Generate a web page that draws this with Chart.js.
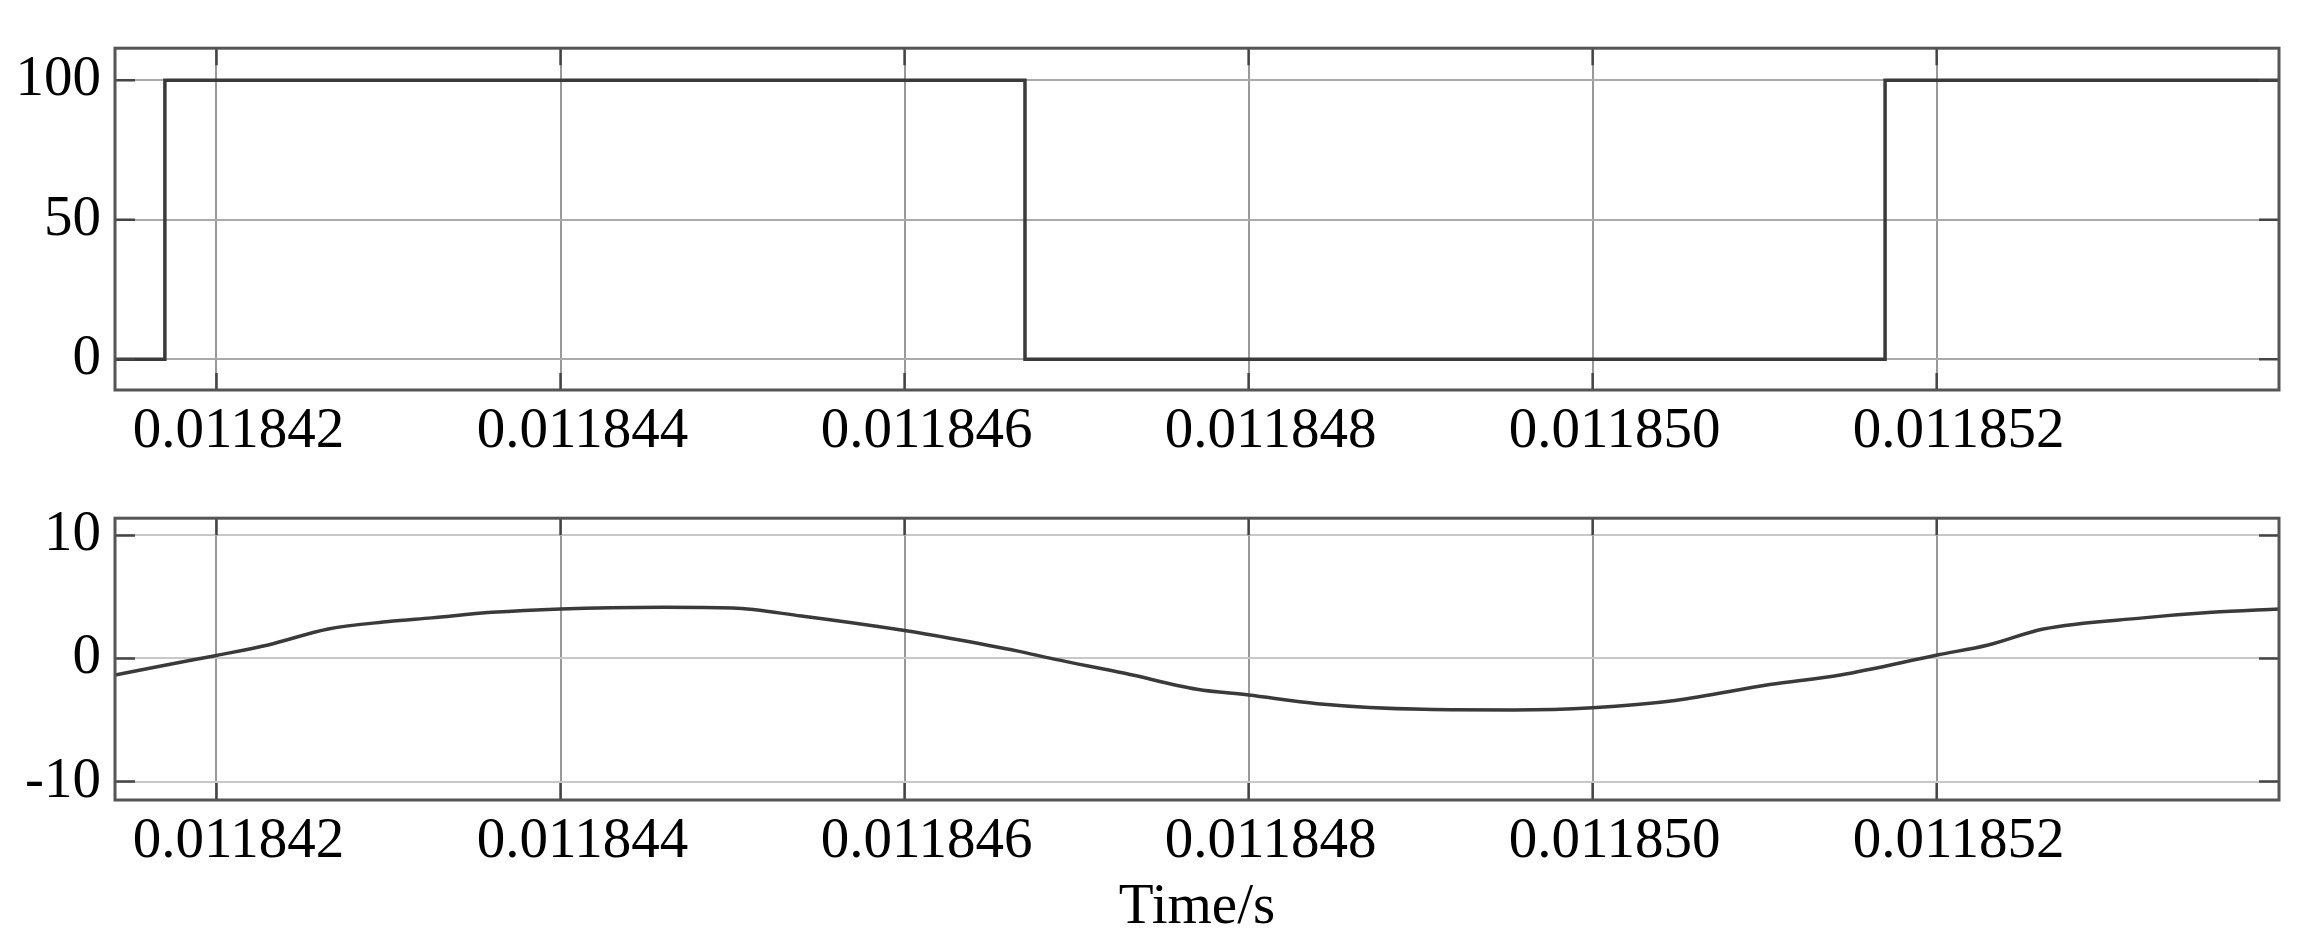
<!DOCTYPE html>
<html>
<head>
<meta charset="utf-8">
<script src="https://cdn.jsdelivr.net/npm/chart.js@4.4.1/dist/chart.umd.min.js"></script>
<style>
  body { margin: 0; background: #fff; }
  #wrap { position: relative; width: 2313px; height: 942px; }
  #topChart { position: absolute; left: 0; top: 0; }
  #bottomChart { position: absolute; left: 0; top: 470px; }
</style>
</head>
<body>
<div id="wrap">
  <canvas id="topChart" width="2313" height="480"></canvas>
  <canvas id="bottomChart" width="2313" height="472"></canvas>
</div>
<script>
// Time axis (seconds)
var timeMin = 0.01184141;
var timeMax = 0.01185399;
var timeTicks = [0.011842, 0.011844, 0.011846, 0.011848, 0.011850, 0.011852];

// Top panel: switching signal
var pwmTime  = [0.01184141, 0.0118417, 0.0118417, 0.0118467, 0.0118467, 0.0118517, 0.0118517, 0.01185399];
var pwmValue = [0, 0, 100, 100, 0, 0, 100, 100];
var pwmTicks = [0, 50, 100];

// Bottom panel: current
var currentTime = [
  0.01184141, 0.0118417, 0.011842, 0.0118423, 0.01184265, 0.011843, 0.01184325, 0.0118436,
  0.011844, 0.0118446, 0.011845, 0.0118454, 0.011846, 0.01184627, 0.01184666, 0.01184687,
  0.01184728, 0.0118477, 0.011848, 0.0118484, 0.01184902, 0.01184954, 0.01185, 0.01185048,
  0.01185103, 0.01185144, 0.01185201, 0.0118523, 0.01185262, 0.0118532, 0.0118536, 0.01185399
];
var currentValue = [
  -1.35, -0.55, 0.25, 1.1, 2.4, 3.0, 3.3, 3.75,
  4.03, 4.16, 4.1, 3.45, 2.27, 1.63, 0.6, -0.05,
  -1.2, -2.5, -2.97, -3.67, -4.13, -4.18, -4.0, -3.41,
  -2.12, -1.34, 0.3, 1.1, 2.4, 3.3, 3.75, 4.03
];
var currentTicks = [-10, 0, 10];

var fontFamily = '"Liberation Serif", "Times New Roman", serif';

function toPoints(xs, ys) {
  return xs.map(function(x, i) { return { x: x, y: ys[i] }; });
}

// Inward tick marks and a box around the plot area
var frameTicks = {
  id: 'frameTicks',
  afterDatasetsDraw: function(chart) {
    var ctx = chart.ctx, a = chart.chartArea;
    var xs = chart.scales.x, ys = chart.scales.y;
    ctx.save();
    ctx.strokeStyle = '#444';
    ctx.lineWidth = 2.5;
    ctx.beginPath();
    xs.ticks.forEach(function(t) {
      var px = xs.getPixelForValue(t.value);
      ctx.moveTo(px, a.top); ctx.lineTo(px, a.top + 17);
      ctx.moveTo(px, a.bottom); ctx.lineTo(px, a.bottom - 17);
    });
    ys.ticks.forEach(function(t) {
      var py = ys.getPixelForValue(t.value);
      ctx.moveTo(a.left, py); ctx.lineTo(a.left + 20, py);
      ctx.moveTo(a.right, py); ctx.lineTo(a.right - 20, py);
    });
    ctx.stroke();
    ctx.strokeStyle = '#555';
    ctx.lineWidth = 3;
    ctx.strokeRect(a.left, a.top, a.right - a.left, a.bottom - a.top);
    ctx.restore();
  }
};

function makeChart(id, xs, ys, yMin, yMax, yTicks, pad, xHeight, showTitle, hGridColor) {
  var ctx = document.getElementById(id).getContext('2d');
  return new Chart(ctx, {
    type: 'line',
    data: {
      datasets: [{
        data: toPoints(xs, ys),
        borderColor: '#3a3a3a',
        borderWidth: 3.5,
        pointRadius: 0,
        fill: false,
        cubicInterpolationMode: showTitle ? 'monotone' : 'default',
        tension: 0
      }]
    },
    options: {
      responsive: false,
      animation: false,
      devicePixelRatio: 1,
      layout: { padding: pad },
      plugins: { legend: { display: false }, tooltip: { enabled: false } },
      scales: {
        x: {
          type: 'linear',
          min: timeMin,
          max: timeMax,
          afterBuildTicks: function(scale) {
            scale.ticks = timeTicks.map(function(v) { return { value: v }; });
          },
          afterFit: function(scale) { scale.height = xHeight; },
          grid: { color: '#999', lineWidth: 2, drawTicks: false },
          border: { display: false },
          ticks: {
            autoSkip: false,
            maxRotation: 0,
            padding: 8,
            labelOffset: 22,
            color: '#000',
            font: { family: fontFamily, size: 57 },
            callback: function(v) { return Number(v).toFixed(6); }
          },
          title: {
            display: showTitle,
            text: 'Time/s',
            color: '#000',
            font: { family: fontFamily, size: 57 },
            padding: { top: 0, bottom: 0 }
          }
        },
        y: {
          min: yMin,
          max: yMax,
          afterBuildTicks: function(scale) {
            scale.ticks = yTicks.map(function(v) { return { value: v }; });
          },
          afterFit: function(scale) { scale.width = 115; },
          grid: { color: hGridColor, lineWidth: 2, drawTicks: false },
          border: { display: false },
          ticks: {
            padding: 14,
            color: '#000',
            font: { family: fontFamily, size: 57 },
            callback: function(v) { return String(v); }
          }
        }
      }
    },
    plugins: [frameTicks]
  });
}

makeChart('topChart', pwmTime, pwmValue, -11, 111.5, pwmTicks,
  { left: 0, right: 34, top: 37, bottom: 0 }, 90, false, '#aaa');
makeChart('bottomChart', currentTime, currentValue, -11.5, 11.4, currentTicks,
  { left: 0, right: 34, top: 34, bottom: 0 }, 142, true, '#c8c8c8');
</script>
</body>
</html>
